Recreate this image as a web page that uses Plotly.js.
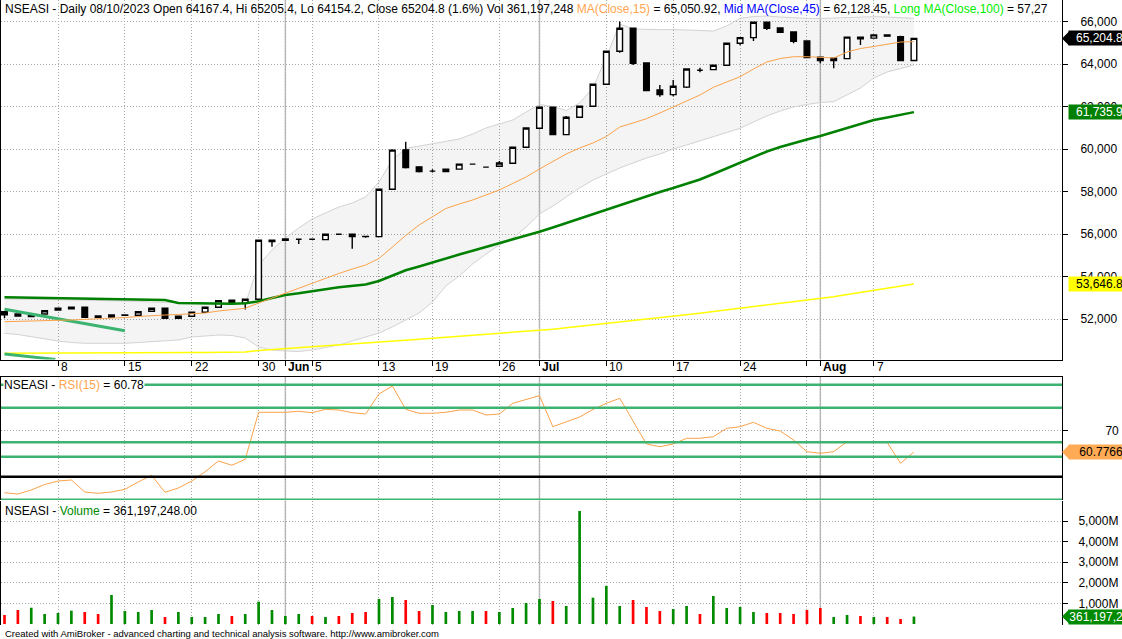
<!DOCTYPE html>
<html><head><meta charset="utf-8">
<script src="https://cdn.plot.ly/plotly-3.0.1.min.js"></script>
<style>html,body{margin:0;padding:0;overflow:hidden;background:#fff}#chart{width:1122px;height:639px}</style>
</head><body><div id="chart"></div>
<script>
// ---------- DATA ----------
const openP = [52344,52235,52110,52235,52424,52551,52551,52141,52094,52190,52174,52362,52504,52033,52127,52315,52551,52880,52740,52928,55707,55770,55754,55754,55735,55989,55989,55890,55876,58109,59960,59159,58957,58938,59051,59287,59145,59185,59326,60080,60975,61964,60675,61493,62011,63047,64602,65685,64050,62779,62557,62910,63707,63735,63942,64978,65242,65967,65700,65511,65087,64319,64159,64254,65265,65218,65370,65290,64167.4];
const highP = [52344,52235,52174,52391,52504,52551,52551,52141,52190,52190,52344,52504,52504,52127,52315,52551,52862,52880,52928,55707,55707,55770,55754,55754,55989,55989,55989,55890,58109,59993,60337,59159,59051,59051,59287,59287,59145,59435,60080,60990,61964,61964,61554,62011,63047,64602,66000,65685,64050,63014,63250,63768,63829,63942,64978,65242,65967,65967,65700,65511,65087,64319,64272,65265,65265,65370,65400,65330,65205.4];
const lowP = [52033,52141,52110,52235,52424,52485,52060,52080,52094,52174,52174,52362,52033,52033,52127,52315,52551,52673,52450,52928,55405,55707,55532,55754,55735,55989,55311,55820,55876,58109,59080,58890,58890,58938,59051,59287,59145,59185,59326,60080,60975,60675,60675,61493,62011,63047,64535,63956,62746,62463,62487,62873,63613,63735,63942,64884,65087,65605,65497,64978,64301,64037,63801,64254,64898,65218,65310,64159,64154.2];
const closeP = [52203,52141,52174,52391,52504,52485,52080,52080,52190,52174,52344,52504,52033,52127,52315,52551,52862,52740,52928,55707,55645,55707,55754,55754,55989,55989,55876,55876,58109,59946,59126,58938,58957,59051,59287,59287,59145,59340,60080,60990,61964,60675,61493,62011,63047,64602,65685,64037,62746,62557,62953,63768,63707,63942,64978,65242,65967,65685,65497,65073,64301,64159,64272,65265,65187,65370,65310,64159,65204.8];
// volume in millions
const volumeM = [437,680,791,485,534,646,583,485,1408,631,583,680,340,583,340,340,485,388,485,1083,680,388,485,388,340,388,534,583,1214,1311,1165,631,922,583,631,631,631,583,777,1019,1214,1117,874,5485,1277,1845,874,1165,825,631,728,874,485,1359,777,825,583,534,534,485,680,777,340,437,388,340,340,243,361.197248];
const volumeUp = [0,0,1,1,1,1,0,0,1,1,1,1,0,1,1,1,1,0,1,1,1,1,1,0,1,0,0,0,1,1,0,0,1,1,1,1,0,1,1,1,1,0,1,1,1,1,1,0,0,0,1,1,0,1,1,1,1,0,0,0,0,0,1,1,0,1,0,0,1];
const ma15 = [51873,51882,51906,51920,51939,51953,51976,52000,52033,52071,52118,52165,52188,52212,52249,52282,52376,52447,52504,52753,52988,53209,53459,53694,53929,54141,54353,54541,54847,55388,55930,56424,56824,57200,57412,57600,57835,58071,58377,58683,59059,59412,59765,60047,60283,60588,61035,61224,61426,61694,61991,62259,62541,62904,63153,63403,63765,64094,64259,64344,64344,64330,64283,64565,64730,64824,64941,65035,65050.92];
const greenMA = [53021,53012,53002,52988,52979,52965,52951,52941,52932,52922,52913,52904,52894,52753,52739,52729,52720,52715,52739,52833,52988,53129,53209,53318,53398,53492,53553,53624,53788,54024,54292,54471,54668,54847,55035,55214,55388,55553,55741,55930,56108,56306,56518,56706,56918,57130,57341,57576,57788,57977,58165,58353,58565,58824,59083,59341,59624,59883,60094,60283,60447,60612,60800,60988,61176,61365,61483,61600,61735.9];
const yellowMA = [50386,50391,50391,50395,50395,50400,50400,50405,50405,50409,50409,50414,50414,50419,50424,50424,50428,50433,50447,50518,50565,50612,50645,50687,50734,50781,50824,50871,50913,50960,51002,51049,51092,51139,51181,51228,51275,51318,51365,51407,51459,51520,51586,51652,51718,51784,51849,51915,51981,52047,52122,52198,52273,52348,52424,52499,52574,52649,52725,52800,52875,52951,53049,53148,53242,53341,53435,53534,53646.8];
const bandUpper = [52941,52941,52932,52918,52908,52894,52885,52871,52861,52861,52833,52800,52776,52767,52753,52739,52720,52706,52706,54541,55247,55812,56282,56706,56988,57271,57459,57741,58447,59483,60024,60141,60259,60353,60471,60706,60988,61177,61365,61741,62094,62000,61812,62165,62871,64330,65883,65647,65624,65614,65624,65600,65553,65553,65789,66151,66236,66259,66212,66165,66151,66142,66165,66189,66212,66226,66212,66179,66151];
const bandLower = [51327,51271,51167,51059,50965,50894,50856,50856,50856,50856,50894,50941,50988,51012,51153,51200,51247,51224,51106,50682,50541,50494,50471,50541,50659,50776,50965,51153,51341,51624,51953,52282,52800,53553,54024,54588,55059,55482,55788,56330,56941,57318,57741,58165,58541,58824,59106,59341,59577,59765,60000,60188,60377,60565,60753,60974,61271,61553,61788,61977,62094,62188,62226,62541,62871,63341,63624,63789,63953];
const rsi15 = [43.04,42.48,44.22,46.61,48.13,48.57,43.35,42.78,43.35,44.52,47.70,50.61,43.22,45.09,48.13,52.17,56.83,54.96,57.57,78.0,78.0,78.0,78.43,77.83,79.30,79.0,77.83,77.26,85.96,89.43,79.30,77.57,77.57,78.0,79.0,79.0,76.83,77.26,81.91,83.65,85.22,71.74,74.0,75.96,79.22,81.91,84.09,74.22,64.22,63.04,64.22,66.70,66.70,67.39,71.04,71.74,73.65,71.04,69.87,65.96,60.87,60.17,60.87,65.22,64.87,65.09,64.87,55.83,60.7766];
const trendA_idx = [0, 9], trendA_val = [52456, 51450];
const trendB_idx = [0, 3.8], trendB_val = [50353, 50100];
const rsiGreenLevels = [90, 80, 65, 58.7, 40];
const rsiBlackLevels = [50];
const priceTicks = [52000,54000,56000,58000,60000,62000,64000,66000];
const rsiTicks = [70];
const volTicks = [1000,2000,3000,4000,5000];
const volTickText = ['1,000M','2,000M','3,000M','4,000M','5,000M'];
const tickIdx = [4,9,14,19,21,23,28,32,37,40,45,50,55,60,61,65];
const tickText = ['8','15','22','30','Jun','5','13','19','26','Jul','10','17','24','','Aug','7'];
const monthIdx = [21,40,61];
const headerDate = '08/10/2023';
const midMA45 = 62128.45;
const longMA100Shown = '57,27';

// ---------- LAYOUT HELPERS ----------
const W = 1122, H = 639;
const FONT = 'Liberation Sans, Arial, sans-serif';
const py = p => 1 - p / H;
const px = p => p / W;
const idx = closeP.map((_, i) => i);
const L = closeP.length - 1;
const nf = (v, d) => v.toLocaleString('en-US', {minimumFractionDigits: d, maximumFractionDigits: d});
const volRaw = volumeM.map(v => Math.round(v * 1e6));
const pct = ((closeP[L] / closeP[L - 1] - 1) * 100).toFixed(1);
const orange = '#fba24a';

const xr = [-0.262, 79.07];
const priceRange = [50094, 67012];

const traces = [
  {x: idx, y: bandLower, xaxis: 'x', yaxis: 'y', mode: 'lines', line: {color: '#d2d2d2', width: 1}, hoverinfo: 'skip'},
  {x: idx, y: bandUpper, xaxis: 'x', yaxis: 'y', mode: 'lines', line: {color: '#d2d2d2', width: 1}, fill: 'tonexty', fillcolor: 'rgba(0,0,0,0.045)', hoverinfo: 'skip'},
  {type: 'candlestick', x: idx, open: openP, high: highP, low: lowP, close: closeP, xaxis: 'x', yaxis: 'y4',
   increasing: {line: {color: '#000', width: 1.4}, fillcolor: '#fff'},
   decreasing: {line: {color: '#000', width: 1.4}, fillcolor: '#000'}, whiskerwidth: 0, hoverinfo: 'skip'},
  {x: idx, y: yellowMA, xaxis: 'x', yaxis: 'y4', mode: 'lines', line: {color: '#ffff00', width: 1.5}, hoverinfo: 'skip'},
  {x: trendA_idx, y: trendA_val, xaxis: 'x', yaxis: 'y4', mode: 'lines', line: {color: '#3cb371', width: 3}, hoverinfo: 'skip'},
  {x: trendB_idx, y: trendB_val, xaxis: 'x', yaxis: 'y4', mode: 'lines', line: {color: '#3cb371', width: 3}, hoverinfo: 'skip'},
  {x: idx, y: greenMA, xaxis: 'x', yaxis: 'y4', mode: 'lines', line: {color: '#008000', width: 2.5}, hoverinfo: 'skip'},
  {x: idx, y: ma15, xaxis: 'x', yaxis: 'y4', mode: 'lines', line: {color: orange, width: 1}, hoverinfo: 'skip'},
  {x: idx, y: rsi15, xaxis: 'x2', yaxis: 'y2', mode: 'lines', line: {color: orange, width: 1}, hoverinfo: 'skip'},
  {type: 'bar', x: idx, y: volRaw, xaxis: 'x3', yaxis: 'y3', width: 0.2,
   marker: {color: volumeUp.map(u => u ? '#008a00' : '#ff0000'), line: {width: 0}}, hoverinfo: 'skip'}
];

const gridCol = '#a8a8a8';
const gridDash = '1px,2px';
const xCommon = {domain: [px(1), px(1062)], range: xr, tickvals: tickIdx, showgrid: true, gridcolor: gridCol, griddash: gridDash,
  zeroline: false, fixedrange: true, showticklabels: false};

const layout = {
  width: W, height: H, margin: {l: 0, r: 0, t: 0, b: 0}, paper_bgcolor: '#fff', plot_bgcolor: '#fff',
  showlegend: false, boxgap: 0.4, font: {family: FONT, size: 12, color: '#000'},
  xaxis: Object.assign({}, xCommon, {anchor: 'y', ticks: 'outside', ticklen: 5, tickcolor: '#000', showline: true, linecolor: '#000', linewidth: 1, rangeslider: {visible: false}}),
  xaxis2: Object.assign({}, xCommon, {anchor: 'y2', side: 'top', ticks: '', showline: true, linecolor: '#000', linewidth: 1}),
  xaxis3: Object.assign({}, xCommon, {anchor: 'y3', ticks: '', showline: false}),
  yaxis: {domain: [py(359.5), 1], range: priceRange, side: 'right', tickvals: priceTicks, tickformat: ',', ticks: 'outside', ticklen: 5,
    tickcolor: '#000', showline: true, linecolor: '#000', mirror: true, showgrid: true, gridcolor: gridCol, griddash: gridDash,
    zeroline: false, fixedrange: true, ticklabelstandoff: 10, anchor: 'x'},
  yaxis4: {overlaying: 'y', range: priceRange, side: 'right', showgrid: false, showticklabels: false, ticks: '', showline: false, zeroline: false, fixedrange: true, anchor: 'x'},
  yaxis2: {domain: [py(500), py(377)], range: [39.87, 93.35], side: 'right', tickvals: rsiTicks, ticks: 'outside', ticklen: 5,
    tickcolor: '#000', showline: true, linecolor: '#000', mirror: true, showgrid: true, gridcolor: gridCol, griddash: gridDash,
    zeroline: false, fixedrange: true, ticklabelstandoff: 35, anchor: 'x2'},
  yaxis3: {domain: [py(625), py(500.5)], range: [-0.0485e9, 5.995e9], side: 'right', tickvals: volTicks.map(v => v * 1e6), ticktext: volTickText,
    ticks: 'outside', ticklen: 5, tickcolor: '#000', showline: true, linecolor: '#000', mirror: true, showgrid: true, gridcolor: gridCol,
    griddash: gridDash, zeroline: false, fixedrange: true, ticklabelstandoff: 8, anchor: 'x3'},
  shapes: [], annotations: []
};

// month separator lines in all panes
[['x', 'y domain'], ['x2', 'y2 domain'], ['x3', 'y3 domain']].forEach(([xa, ya]) => {
  monthIdx.forEach(m => layout.shapes.push({type: 'line', xref: xa, yref: ya, x0: m, x1: m, y0: 0, y1: 1,
    line: {color: '#bdbdbd', width: 1.5}, layer: 'below'}));
});
// RSI levels
rsiGreenLevels.forEach(v => layout.shapes.push({type: 'line', xref: 'x2 domain', yref: 'y2', x0: 0, x1: 1, y0: v, y1: v,
  line: {color: '#3cb371', width: 2.5}, layer: 'above'}));
rsiBlackLevels.forEach(v => layout.shapes.push({type: 'line', xref: 'x2 domain', yref: 'y2', x0: 0, x1: 1, y0: v, y1: v,
  line: {color: '#000', width: 2.5}, layer: 'above'}));

// right-side value labels
function valueLabel(yref, value, text, bg, fg, arrow) {
  layout.annotations.push({xref: 'paper', yref: yref, x: px(1068), y: value, xanchor: 'left', yanchor: 'middle',
    text: text, showarrow: false, bgcolor: bg, font: {color: fg, size: 12, family: FONT}, borderpad: 0, width: 54, align: 'right'});
  if (arrow) layout.shapes.push({type: 'path', xref: 'paper', yref: yref, xsizemode: 'pixel', ysizemode: 'pixel',
    xanchor: px(1062), yanchor: value, path: 'M0,0L7,7L7,-7Z', fillcolor: bg, line: {width: 0}});
}
valueLabel('y', closeP[L], nf(closeP[L], 1), '#000', '#fff', true);
valueLabel('y', greenMA[L], nf(greenMA[L], 1), '#008000', '#fff', false);
valueLabel('y', yellowMA[L], nf(yellowMA[L], 1), '#ffff00', '#000', false);
valueLabel('y2', rsi15[L], rsi15[L].toFixed(4), '#ffaa55', '#000', true);
valueLabel('y3', volRaw[L], nf(volRaw[L], 0).slice(0, 9), '#008a00', '#fff', true);

// x tick labels
tickIdx.forEach((t, i) => {
  if (!tickText[i]) return;
  const bold = monthIdx.includes(t);
  layout.annotations.push({xref: 'x', yref: 'paper', x: t, y: py(367), xanchor: 'left', yanchor: 'middle', xshift: 1,
    text: bold ? '<b>' + tickText[i] + '</b>' : tickText[i], showarrow: false, font: {size: 12, color: '#000', family: FONT}});
});

// headers
const hdr = `NSEASI - Daily ${headerDate} Open ${openP[L]}, Hi ${highP[L]}, Lo ${lowP[L]}, Close ${closeP[L]} (${pct}%) Vol ${nf(volRaw[L], 0)} ` +
  `<span style="color:#ffa54f">MA(Close,15)</span> = ${nf(ma15[L], 2)}, <span style="color:#0000ff">Mid MA(Close,45)</span> = ${nf(midMA45, 2)}, ` +
  `<span style="color:#00ee00">Long MA(Close,100)</span> = ${longMA100Shown}`;
layout.annotations.push({xref: 'paper', yref: 'paper', x: px(3), y: py(9), xanchor: 'left', yanchor: 'middle', text: hdr, showarrow: false, font: {size: 12, family: FONT}});
layout.annotations.push({xref: 'paper', yref: 'paper', x: px(3), y: py(385), xanchor: 'left', yanchor: 'middle',
  text: `NSEASI - <span style="color:#ffa54f">RSI(15)</span> = ${rsi15[L].toFixed(2)}`, showarrow: false, bgcolor: '#fff', borderpad: 0, font: {size: 12, family: FONT}});
layout.annotations.push({xref: 'paper', yref: 'paper', x: px(3), y: py(511), xanchor: 'left', yanchor: 'middle',
  text: `NSEASI - <span style="color:#008a00">Volume</span> = ${nf(volRaw[L], 2)}`, showarrow: false, font: {size: 12, family: FONT}});
layout.annotations.push({xref: 'paper', yref: 'paper', x: px(3), y: py(633), xanchor: 'left', yanchor: 'middle',
  text: 'Created with AmiBroker - advanced charting and technical analysis software. http://www.amibroker.com', showarrow: false, font: {size: 9.5, family: FONT}});

Plotly.newPlot('chart', traces, layout, {displayModeBar: false, staticPlot: true});
</script></body></html>
